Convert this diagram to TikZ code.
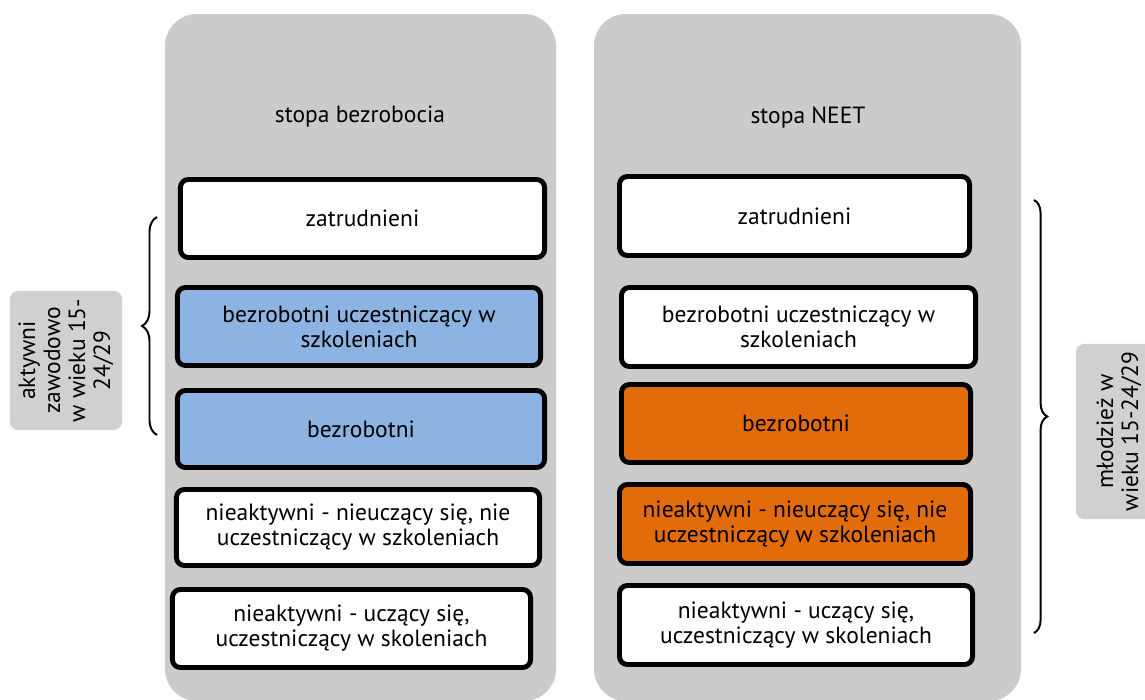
\documentclass[tikz,border=0pt]{standalone}
\usepackage{fontspec}
\setmainfont{PT Sans}
\usepackage{tikz}
\usetikzlibrary{decorations.pathreplacing}
\definecolor{panelgray}{HTML}{CBCBCB}
\definecolor{labelgray}{HTML}{D0D0D0}
\definecolor{cellblue}{HTML}{8DB3E2}
\definecolor{cellorange}{HTML}{E36C0A}

\begin{document}
\begin{tikzpicture}[x=0.025cm, y=-0.025cm,
		every node/.style={font=\fontsize{16.7}{17.8}\selectfont},
		cell/.style={draw=black, line width=3.5pt, rounded corners=2mm, align=center, minimum height=1.95cm, inner sep=0pt},
		sidelabel/.style={fill=labelgray, rounded corners=2mm, rotate=90, align=center, inner sep=0pt},
		curly/.style={line width=1.4pt, decorate}]
		\useasboundingbox (0,0) rectangle (1145,699);
		\clip (0,0) rectangle (1145,699);
		% panels
		\fill[panelgray, rounded corners=0.8cm] (165,14) rectangle (556,701);
		\fill[panelgray, rounded corners=0.8cm] (594,14) rectangle (1021,701);
		\node (tl) at (360,117) {stopa bezrobocia};
		\node (tr) at (808,117) {stopa NEET};
		% left column
		\node[cell, fill=white, minimum width=9.1cm] (l1) at (362.5,218.5) {zatrudnieni};
		\node[cell, fill=cellblue, minimum width=9.075cm] (l2) at (359,326.5) {bezrobotni uczestniczący w\\szkoleniach};
		\node[cell, fill=cellblue, minimum width=9.175cm, minimum height=1.925cm] (l3) at (361,429) {bezrobotni};
		\node[cell, fill=white, minimum width=9.075cm, minimum height=1.9cm] (l4) at (358,527.5) {nieaktywni - nieuczący się, nie\\uczestniczący w szkoleniach};
		\node[cell, fill=white, minimum width=8.95cm] (l5) at (351.5,628.5) {nieaktywni - uczący się,\\uczestniczący w skoleniach};
		% right column
		\node[cell, fill=white, minimum width=8.75cm, minimum height=1.975cm] (r1) at (794.5,216) {zatrudnieni};
		\node[cell, fill=white, minimum width=8.85cm, minimum height=1.975cm] (r2) at (798.5,327) {bezrobotni uczestniczący w\\szkoleniach};
		\node[cell, fill=cellorange, minimum width=8.725cm] (r3) at (796,423.5) {bezrobotni};
		\node[cell, fill=cellorange, minimum width=8.775cm, minimum height=1.975cm] (r4) at (795,524) {nieaktywni - nieuczący się, nie\\uczestniczący w szkoleniach};
		\node[cell, fill=white, minimum width=8.825cm, minimum height=1.975cm] (r5) at (796,625) {nieaktywni - uczący się,\\uczestniczący w skoleniach};
		% braces and side labels
		\coordinate (lbtop) at (157,217);
		\coordinate (lbbot) at (157,435);
		\draw[curly, decoration={brace, amplitude=0.375cm}] (lbbot) -- (lbtop);
		\coordinate (rbtop) at (1034,200);
		\coordinate (rbbot) at (1034,633);
		\draw[curly, decoration={brace, amplitude=0.33cm}] (rbtop) -- (rbbot);
		\node[sidelabel, minimum width=3.475cm, minimum height=2.8cm] (la) at (66,360.5) {aktywni\\zawodowo\\w wieku 15-\\24/29};
		\node[sidelabel, minimum width=4.375cm, minimum height=2.15cm] (lm) at (1119,431.5) {młodzież w\\wieku 15-24/29};
	\end{tikzpicture}
\end{document}
